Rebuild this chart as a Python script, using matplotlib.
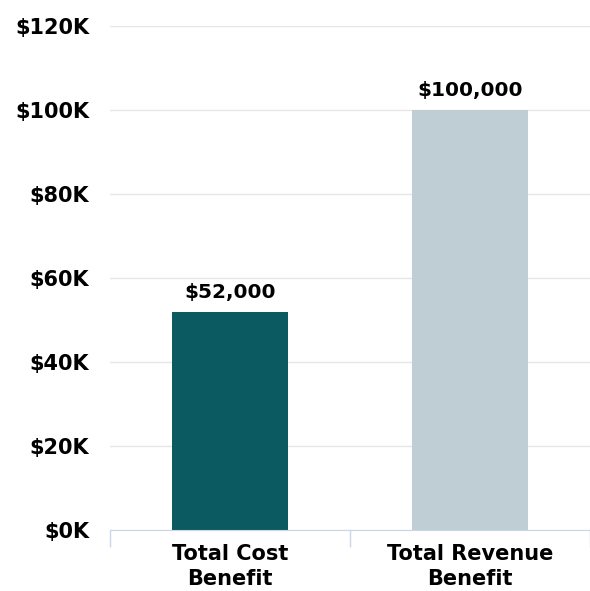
import matplotlib.pyplot as plt
from matplotlib.ticker import FuncFormatter

categories = ["Total Cost\nBenefit", "Total Revenue\nBenefit"]
values = [52000, 100000]
bar_colors = ["#0b5961", "#bfcdd4"]
y_ticks = [0, 20000, 40000, 60000, 80000, 100000, 120000]

fig = plt.figure(figsize=(5.9, 5.91), dpi=100)
ax = fig.add_axes([110 / 590, 61 / 591, 480 / 590, 504 / 591])

x = list(range(len(categories)))
ax.bar(x, values, width=0.48, color=bar_colors, zorder=3)

for xi, v in zip(x, values):
    ax.annotate(f"${v:,.0f}", (xi, v), xytext=(0, 7), textcoords="offset points",
                ha="center", va="bottom", fontsize=14.5, fontweight="bold", color="black")

ax.set_xlim(-0.5, 1.5)
ax.set_ylim(0, 120000)
ax.set_yticks(y_ticks)
ax.yaxis.set_major_formatter(FuncFormatter(lambda v, p: f"${v / 1000:.0f}K"))
ax.tick_params(axis="y", length=0, pad=15, labelsize=15)
for lab in ax.get_yticklabels():
    lab.set_fontweight("bold")

ax.set_xticks(x)
ax.set_xticklabels(categories, fontsize=15, fontweight="bold", linespacing=1.3)
ax.tick_params(axis="x", which="major", length=0, pad=10)
ax.set_xticks([-0.5, 0.5, 1.5], minor=True)
ax.tick_params(axis="x", which="minor", length=12, color="#ccd6eb", width=1)

ax.grid(axis="y", color="#e6e6e6", lw=1, zorder=0)
for s in ["top", "right", "left"]:
    ax.spines[s].set_visible(False)
ax.spines["bottom"].set_color("#ccd6eb")
ax.spines["bottom"].set_zorder(4)

fig.savefig("out.png", dpi=100)
